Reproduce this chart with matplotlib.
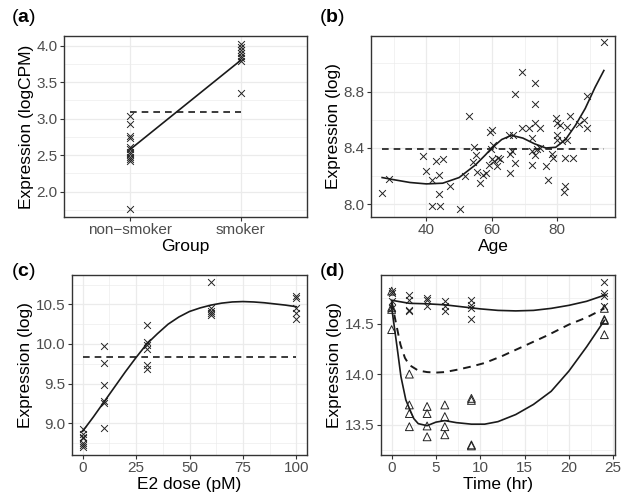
import matplotlib
matplotlib.use("Agg")
import matplotlib.pyplot as plt
import numpy as np
from matplotlib.ticker import MultipleLocator, FixedLocator, FormatStrFormatter

plt.rcParams['font.family'] = ['Liberation Sans', 'DejaVu Sans']
plt.rcParams['mathtext.fontset'] = 'custom'
plt.rcParams['mathtext.rm'] = 'Liberation Sans'
plt.rcParams['mathtext.bf'] = 'Liberation Sans:bold'

# ---------------- Panel (a) data ----------------
a_groups = ['non\u2212smoker', 'smoker']
a_nonsmoker = [3.03, 2.93, 2.76, 2.74, 2.615, 2.58, 2.54, 2.515, 2.48, 2.45, 2.425, 1.765]
a_smoker = [4.02, 3.98, 3.94, 3.90, 3.86, 3.83, 3.79, 3.35]
a_fit = [2.58, 3.80]
a_mean = 3.09

# ---------------- Panel (b) data ----------------
b_age = [26.5, 28.5, 38.9, 39.9, 41.8, 41.8, 43.0, 44.0, 44.0, 44.2, 45.0, 47.2, 50.3,
         51.8, 52.9, 54.5, 55.2, 54.2, 55.5, 56.3, 57.3, 58.2, 59.3, 60.0, 59.6, 60.0,
         59.0, 60.7, 61.5, 62.5, 62.0, 60.5, 65.6, 67.2, 65.6, 65.2, 67.2, 69.1, 66.5,
         66.0, 73.1, 73.3, 71.3, 69.1, 73.3, 74.7, 72.4, 72.2, 73.8, 73.2, 74.7, 72.2,
         76.5, 78.5, 78.8, 77.2, 79.6, 80.0, 80.8, 82.9, 84.0, 86.6, 88.1, 89.1, 79.8,
         79.8, 81.4, 82.9, 82.4, 84.9, 82.4, 81.9, 88.9, 94.2]
b_expr = [8.08, 8.18, 8.34, 8.24, 8.17, 7.99, 8.31, 8.21, 8.07, 7.99, 8.32, 8.13, 7.97,
          8.20, 8.63, 8.41, 8.35, 8.30, 8.23, 8.15, 8.21, 8.22, 8.51, 8.53, 8.39, 8.32,
          8.28, 8.31, 8.27, 8.32, 8.33, 8.42, 8.36, 8.29, 8.22, 8.49, 8.78, 8.94, 8.49,
          8.38, 8.86, 8.71, 8.54, 8.54, 8.58, 8.54, 8.47, 8.38, 8.39, 8.35, 8.40, 8.28,
          8.27, 8.36, 8.33, 8.17, 8.61, 8.58, 8.56, 8.55, 8.63, 8.57, 8.60, 8.54, 8.49,
          8.46, 8.45, 8.46, 8.33, 8.33, 8.13, 8.09, 8.77, 9.15]
b_fit_age = [26.5, 30, 35, 40, 45, 50, 55, 58, 60, 63, 66, 69.5, 73, 76.5, 79.5, 82.5, 85.5,
             88.5, 91.5, 94.2]
b_fit_expr = [8.19, 8.175, 8.155, 8.145, 8.15, 8.19, 8.28, 8.35, 8.40, 8.46, 8.49, 8.47,
              8.43, 8.40, 8.405, 8.46, 8.56, 8.68, 8.83, 8.95]
b_mean = 8.39

# ---------------- Panel (c) data ----------------
c_dose = [0]*7 + [10]*6 + [30]*6 + [60]*5 + [100]*5
c_expr = [8.93, 8.87, 8.83, 8.82, 8.75, 8.72, 8.70,
          9.98, 9.76, 9.48, 9.28, 9.26, 8.945,
          10.24, 10.03, 9.99, 9.94, 9.74, 9.68,
          10.78, 10.45, 10.42, 10.39, 10.36,
          10.60, 10.575, 10.46, 10.395, 10.32]
c_fit_dose = [0, 5, 10, 15, 20, 25, 30, 35, 40, 45, 50, 55, 60, 65, 70, 75, 80, 85, 90, 95, 100]
c_fit_expr = [8.90, 9.08, 9.27, 9.46, 9.65, 9.83, 10.00, 10.13, 10.25, 10.34, 10.41, 10.455,
              10.49, 10.515, 10.53, 10.535, 10.53, 10.52, 10.505, 10.49, 10.47]
c_mean = 9.84

# ---------------- Panel (d) data ----------------
d_time_x = [0]*4 + [2]*4 + [4]*3 + [6]*3 + [9]*4 + [24]*4
d_expr_x = [14.82, 14.80, 14.72, 14.65,
            14.78, 14.73, 14.635, 14.62,
            14.75, 14.73, 14.675,
            14.72, 14.675, 14.62,
            14.73, 14.685, 14.65, 14.54,
            14.91, 14.80, 14.77, 14.67]
d_time_t = [0]*4 + [2]*4 + [4]*4 + [6]*4 + [9]*4 + [24]*4
d_expr_t = [14.82, 14.66, 14.64, 14.44,
            14.00, 13.695, 13.61, 13.48,
            13.68, 13.61, 13.487, 13.38,
            13.695, 13.58, 13.48, 13.40,
            13.76, 13.74, 13.30, 13.29,
            14.65, 14.54, 14.53, 14.39]
d_fitx_time = [0, 2, 4, 6, 8, 10, 12, 14, 16, 18, 20, 22, 24]
d_fitx_expr = [14.73, 14.70, 14.695, 14.685, 14.665, 14.645, 14.63, 14.625, 14.63, 14.65,
               14.68, 14.72, 14.78]
d_fitt_time = [0, 0.3, 0.7, 1.05, 1.6, 2, 2.5, 3, 4, 5, 6, 7.3, 9, 10.5, 12, 14, 16, 18, 20, 22, 24]
d_fitt_expr = [14.66, 14.47, 14.21, 13.975, 13.745, 13.66, 13.56, 13.51, 13.49, 13.525, 13.54,
               13.52, 13.505, 13.505, 13.53, 13.60, 13.70, 13.83, 14.03, 14.27, 14.53]
d_fitm_time = [0, 0.5, 1, 1.5, 2, 3, 4, 5, 6, 7.5, 9, 10.5, 12.5, 15, 17.5, 20, 22, 24]
d_fitm_expr = [14.72, 14.50, 14.29, 14.16, 14.09, 14.035, 14.02, 14.015, 14.02, 14.045, 14.075,
               14.11, 14.18, 14.28, 14.38, 14.49, 14.56, 14.65]

W, H = 627, 497
fig = plt.figure(figsize=(W/100, H/100), dpi=100)

TICK_FS = 11
LAB_FS = 12.5
TICK_COL = '#4D4D4D'
GRID = '#EBEBEB'
INK = '#1A1A1A'


def add_ax(l, r, t, b):
    return fig.add_axes([l/W, 1 - b/H, (r - l)/W, (b - t)/H])


def style(ax):
    ax.set_axisbelow(True)
    for s in ax.spines.values():
        s.set_color('#333333')
        s.set_linewidth(1.0)
    ax.grid(True, which='major', color=GRID, lw=0.9)
    ax.grid(True, which='minor', color=GRID, lw=0.45)
    ax.tick_params(which='major', length=3, width=0.8, color='#333333',
                   labelsize=TICK_FS, labelcolor=TICK_COL, pad=1.5)
    ax.tick_params(which='minor', length=0)


def panel_label(x, y, letter):
    fig.text(x/W, 1 - y/H, r'($\mathbf{' + letter + r'}$)', fontsize=14,
             ha='left', va='center', color='black')


mk = dict(marker='x', s=24, color='#222222', linewidths=0.7, zorder=3)
DASH = (0, (4, 3))

# ---- (a)
ax = add_ax(64, 307, 36, 217)
style(ax)
ax.scatter([1]*len(a_nonsmoker), a_nonsmoker, **mk)
ax.scatter([2]*len(a_smoker), a_smoker, **mk)
ax.plot([1, 2], a_fit, color=INK, lw=1.2, zorder=4)
ax.plot([1, 2], [a_mean, a_mean], color=INK, lw=1.2, ls=DASH, zorder=4)
ax.set_xlim(0.4, 2.6)
ax.set_ylim(1.652, 4.133)
ax.xaxis.set_major_locator(FixedLocator([1, 2]))
ax.set_xticklabels(a_groups)
ax.yaxis.set_major_locator(MultipleLocator(0.5))
ax.yaxis.set_minor_locator(MultipleLocator(0.25))
ax.yaxis.set_major_formatter(FormatStrFormatter('%.1f'))
ax.set_xlabel('Group', fontsize=LAB_FS, labelpad=1)
ax.set_ylabel('Expression (logCPM)', fontsize=LAB_FS, labelpad=2)
panel_label(11, 18, 'a')

# ---- (b)
ax = add_ax(371, 615, 36, 217)
style(ax)
ax.scatter(b_age, b_expr, **mk)
ax.plot(b_fit_age, b_fit_expr, color=INK, lw=1.2, zorder=4)
ax.plot([min(b_age), max(b_age)], [b_mean, b_mean], color=INK, lw=1.2, ls=DASH, zorder=4)
ax.set_xlim(23.1, 97.6)
ax.set_ylim(7.91, 9.195)
ax.xaxis.set_major_locator(MultipleLocator(20))
ax.xaxis.set_minor_locator(MultipleLocator(10))
ax.yaxis.set_major_locator(MultipleLocator(0.4))
ax.yaxis.set_minor_locator(MultipleLocator(0.2))
ax.yaxis.set_major_formatter(FormatStrFormatter('%.1f'))
ax.set_xlabel('Age', fontsize=LAB_FS, labelpad=1)
ax.set_ylabel('Expression (log)', fontsize=LAB_FS, labelpad=2)
panel_label(319, 18, 'b')

# ---- (c)
ax = add_ax(72, 307, 275, 455)
style(ax)
ax.scatter(c_dose, c_expr, **mk)
ax.plot(c_fit_dose, c_fit_expr, color=INK, lw=1.2, zorder=4)
ax.plot([0, 100], [c_mean, c_mean], color=INK, lw=1.2, ls=DASH, zorder=4)
ax.set_xlim(-5, 105)
ax.set_ylim(8.60, 10.87)
ax.xaxis.set_major_locator(MultipleLocator(25))
ax.xaxis.set_minor_locator(MultipleLocator(12.5))
ax.yaxis.set_major_locator(MultipleLocator(0.5))
ax.yaxis.set_minor_locator(MultipleLocator(0.25))
ax.yaxis.set_major_formatter(FormatStrFormatter('%.1f'))
ax.set_xlabel('E2 dose (pM)', fontsize=LAB_FS, labelpad=1)
ax.set_ylabel('Expression (log)', fontsize=LAB_FS, labelpad=2)
panel_label(11, 272, 'c')

# ---- (d)
ax = add_ax(381, 615, 275, 455)
style(ax)
ax.scatter(d_time_x, d_expr_x, **mk)
ax.scatter(d_time_t, d_expr_t, marker='^', s=32, facecolors='none', edgecolors='#222222',
           linewidths=0.7, zorder=3)
ax.plot(d_fitx_time, d_fitx_expr, color=INK, lw=1.2, zorder=4)
ax.plot(d_fitt_time, d_fitt_expr, color=INK, lw=1.2, zorder=4)
ax.plot(d_fitm_time, d_fitm_expr, color=INK, lw=1.4, ls=DASH, zorder=4)
ax.set_xlim(-1.2, 25.2)
ax.set_ylim(13.20, 14.98)
ax.xaxis.set_major_locator(MultipleLocator(5))
ax.xaxis.set_minor_locator(MultipleLocator(2.5))
ax.yaxis.set_major_locator(MultipleLocator(0.5))
ax.yaxis.set_minor_locator(MultipleLocator(0.25))
ax.yaxis.set_major_formatter(FormatStrFormatter('%.1f'))
ax.set_xlabel('Time (hr)', fontsize=LAB_FS, labelpad=1)
ax.set_ylabel('Expression (log)', fontsize=LAB_FS, labelpad=2)
panel_label(319, 272, 'd')

fig.savefig('out.png', dpi=100)
